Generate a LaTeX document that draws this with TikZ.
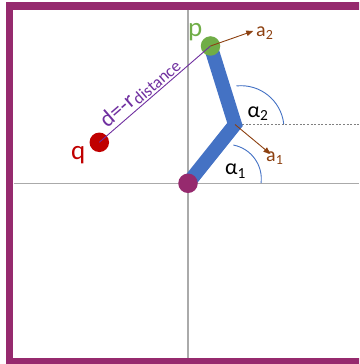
\documentclass[tikz,border=0pt]{standalone}
\usepackage{fontspec}
\setmainfont{Carlito}
\usetikzlibrary{arrows.meta}
\definecolor{framec}{RGB}{150,42,110}
\definecolor{linkc}{RGB}{68,114,196}
\definecolor{greenc}{RGB}{112,173,71}
\definecolor{redc}{RGB}{192,0,0}
\definecolor{brownc}{RGB}{140,64,16}
\definecolor{purplec}{RGB}{112,48,160}
\definecolor{axisc}{RGB}{170,170,170}
\tikzset{
  axisline/.style={axisc, line width=1.4pt},
  jointdot/.style={circle, minimum size=19.5pt, inner sep=0pt, draw=none},
  linkbar/.style={linkc, line width=14pt, line join=miter},
  anglearc/.style={linkc, line width=0.9pt},
  vecarrow/.style={brownc, line width=0.9pt, -{Triangle[length=7pt,width=5.5pt]}},
  lbl/.style={inner sep=0pt, anchor=base west},
}
\begin{document}
\begin{tikzpicture}[x=1pt,y=1pt]
\useasboundingbox (0,0) rectangle (359,364);
\begin{scope}
\clip (0,0) rectangle (359,364);
\draw[framec, line width=7.5pt] (9.7,2.5) rectangle (380,358);
\end{scope}
% axes
\coordinate (hx0) at (13.5,180.7);
\coordinate (hx1) at (359,180.7);
\coordinate (vy0) at (188,354);
\coordinate (vy1) at (188,6);
\draw[axisline] (hx0) -- (hx1);
\draw[axisline] (vy0) -- (vy1);
% key points
\coordinate (E) at (235,239.5);
\coordinate (dashend) at (359,239.5);
\draw[gray, line width=0.8pt, dash pattern=on 2pt off 1.6pt] (E) -- (dashend);
% angle arcs
\coordinate (c1) at (226.8,185.1);
\coordinate (c2) at (241,235.3);
\draw[anglearc] (c1) ++(-7:34.5) arc[start angle=-7, end angle=79, radius=34.5];
\draw[anglearc] (c2) ++(6:43) arc[start angle=6, end angle=96, radius=43];
% link
\coordinate (Oc) at (188,180.7);
\coordinate (Pc) at (210.5,318);
\draw[linkbar] (Oc) -- (E) -- (Pc);
% joints
\node[jointdot, fill=framec] (O) at (Oc) {};
\node[jointdot, fill=greenc] (P) at (Pc) {};
\node[jointdot, fill=redc] (Q) at (99.3,221.7) {};
% distance line
\draw[purplec, line width=0.9pt] (Q.center) -- (P.center)
  node[pos=0.43, sloped, above, inner sep=1.5pt, text=purplec] (dlbl)
  {\fontsize{23}{26}\selectfont d=-r\raisebox{-3pt}{\fontsize{17}{20}\selectfont distance}};
% velocity arrows
\coordinate (a2tip) at (253.3,333);
\coordinate (a1tip) at (270.5,210);
\draw[vecarrow] (P.center) -- (a2tip);
\draw[vecarrow] (E) -- (a1tip);
% labels
\node[lbl, text=greenc] (plbl) at (188,327.5) {\fontsize{27}{30}\selectfont p};
\node[lbl, text=redc] (qlbl) at (71,204.5) {\fontsize{27}{30}\selectfont q};
\node[lbl] (al2) at (247.5,246.5) {\fontsize{22}{26}\selectfont α\textsubscript{2}};
\node[lbl] (al1) at (225,189) {\fontsize{22}{26}\selectfont α\textsubscript{1}};
\node[lbl, text=brownc] (a1lbl) at (266,202.5) {\fontsize{20}{24}\selectfont a\textsubscript{1}};
\node[lbl, text=brownc] (a2lbl) at (256,327.5) {\fontsize{20}{24}\selectfont a\textsubscript{2}};
\end{tikzpicture}
\end{document}
